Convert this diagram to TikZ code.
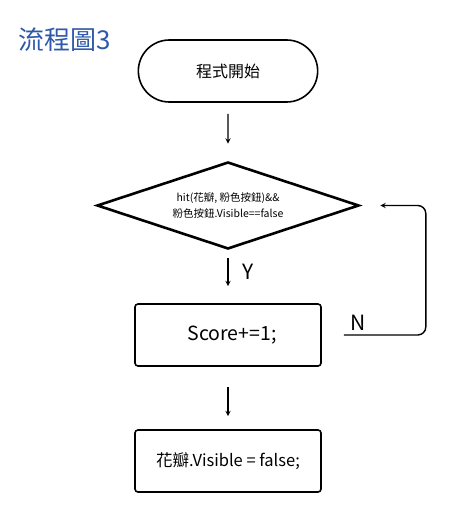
\documentclass[tikz,border=0pt]{standalone}
\usepackage{fontspec}
\setmainfont{Noto Sans CJK TC}
\usetikzlibrary{shapes.geometric,shapes.misc,positioning}
\definecolor{titleblue}{RGB}{46,88,170}

\begin{document}
\begin{tikzpicture}[
    node distance=130pt,
    startbox/.style={rounded rectangle, draw=black, line width=1.6pt, minimum width=186pt, minimum height=62pt, font=\fontsize{16}{19}\selectfont},
    cond/.style={diamond, aspect=3, draw=black, line width=2.6pt, minimum width=262pt, minimum height=87pt, inner sep=0pt, align=center, font=\fontsize{10.5}{16}\selectfont},
    box/.style={rectangle, draw=black, line width=1.6pt, minimum width=186pt, minimum height=62pt, rounded corners=3pt, align=center},
    arr/.style={->, >=stealth, line width=1.4pt, black},
    lbl/.style={font=\fontsize{21}{25}\selectfont},
]
\useasboundingbox (0,0) rectangle (457pt,-508pt);

\node[font=\fontsize{26}{30}\selectfont, text=titleblue] (title) at (65pt,-40pt) {流程圖3};
\node[startbox] (start) at (228pt,-71pt) {程式開始};
\node[cond, below of=start, node distance=134.5pt] (hit) {hit(花瓣, 粉色按鈕)\&\&\\粉色按鈕.Visible==false};
\node[box, below of=hit, node distance=129.5pt, font=\fontsize{19.5}{23}\selectfont] (score) {\hspace{8pt}Score+=1;};
\node[box, below of=score, node distance=126pt, font=\fontsize{16.5}{20}\selectfont] (hide) {花瓣.Visible = false;};

\draw[arr, shorten <=11pt, shorten >=17pt] (start) -- (hit);
\draw[arr, shorten <=8pt, shorten >=17pt] (hit) -- node[lbl, right, pos=0.4, xshift=10pt] (ylbl) {Y} (score);
\draw[arr, shorten <=20pt, shorten >=13pt] (score) -- (hide);
\draw[arr, rounded corners=8pt, shorten <=22pt, shorten >=20pt] (score.east) -- node[lbl, above, pos=0.35] (nlbl) {N} ++(104pt,0) |- (hit.east);
\end{tikzpicture}
\end{document}
